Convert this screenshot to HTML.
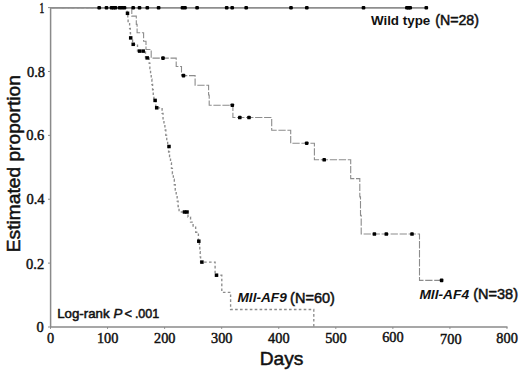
<!DOCTYPE html>
<html><head><meta charset="utf-8"><style>
html,body{margin:0;padding:0;background:#fff;width:520px;height:371px;overflow:hidden;}
svg{display:block;font-family:"Liberation Sans",sans-serif;}
</style></head><body>
<svg width="520" height="371" viewBox="0 0 520 371">
<rect width="520" height="371" fill="#fff"/>
<path d="M50.6,7.2 L50.6,327 M50,327 L507.5,327" stroke="#8a8a8a" stroke-width="1.5" fill="none"/>
<line x1="48" y1="327.00" x2="50.6" y2="327.00" stroke="#8a8a8a" stroke-width="1"/>
<line x1="48" y1="263.12" x2="50.6" y2="263.12" stroke="#8a8a8a" stroke-width="1"/>
<line x1="48" y1="199.24" x2="50.6" y2="199.24" stroke="#8a8a8a" stroke-width="1"/>
<line x1="48" y1="135.36" x2="50.6" y2="135.36" stroke="#8a8a8a" stroke-width="1"/>
<line x1="48" y1="71.48" x2="50.6" y2="71.48" stroke="#8a8a8a" stroke-width="1"/>
<line x1="48" y1="7.60" x2="50.6" y2="7.60" stroke="#8a8a8a" stroke-width="1"/>
<line x1="50.50" y1="327" x2="50.50" y2="328.9" stroke="#8a8a8a" stroke-width="1"/>
<line x1="107.56" y1="327" x2="107.56" y2="328.9" stroke="#8a8a8a" stroke-width="1"/>
<line x1="164.62" y1="327" x2="164.62" y2="328.9" stroke="#8a8a8a" stroke-width="1"/>
<line x1="221.68" y1="327" x2="221.68" y2="328.9" stroke="#8a8a8a" stroke-width="1"/>
<line x1="278.74" y1="327" x2="278.74" y2="328.9" stroke="#8a8a8a" stroke-width="1"/>
<line x1="335.80" y1="327" x2="335.80" y2="328.9" stroke="#8a8a8a" stroke-width="1"/>
<line x1="392.86" y1="327" x2="392.86" y2="328.9" stroke="#8a8a8a" stroke-width="1"/>
<line x1="449.92" y1="327" x2="449.92" y2="328.9" stroke="#8a8a8a" stroke-width="1"/>
<line x1="506.98" y1="327" x2="506.98" y2="328.9" stroke="#8a8a8a" stroke-width="1"/>
<path d="M50.00,7.60 L127.20,7.60 L127.20,13.00 L127.80,13.00 L127.80,18.30 L128.10,18.30 L128.10,23.60 L129.60,23.60 L129.60,28.50 L130.30,28.50 L130.30,33.00 L130.50,33.00 L130.50,37.90 L132.60,37.90 L132.60,44.30 L137.50,44.30 L137.50,51.10 L145.50,51.10 L145.50,57.90 L149.20,57.90 L149.20,63.21 L149.88,63.21 L149.88,68.53 L150.55,68.53 L150.55,73.84 L151.22,73.84 L151.22,79.15 L151.90,79.15 L151.90,84.46 L152.57,84.46 L152.57,89.78 L153.25,89.78 L153.25,95.09 L153.92,95.09 L153.92,100.40 L154.60,100.40 L155.80,100.40 L155.80,107.80 L162.10,107.80 L162.10,113.33 L163.03,113.33 L163.03,118.86 L163.96,118.86 L163.96,124.39 L164.89,124.39 L164.89,129.91 L165.81,129.91 L165.81,135.44 L166.74,135.44 L166.74,140.97 L167.67,140.97 L167.67,146.50 L168.60,146.50 L168.60,151.96 L169.55,151.96 L169.55,157.42 L170.50,157.42 L170.50,162.88 L171.45,162.88 L171.45,168.33 L172.40,168.33 L172.40,173.79 L173.35,173.79 L173.35,179.25 L174.30,179.25 L174.30,184.71 L175.25,184.71 L175.25,190.17 L176.20,190.17 L176.20,195.62 L177.15,195.62 L177.15,201.08 L178.10,201.08 L178.10,206.54 L179.05,206.54 L179.05,212.00 L180.00,212.00 L188.00,212.00 L188.00,217.05 L190.55,217.05 L190.55,222.10 L193.10,222.10 L193.10,227.15 L195.65,227.15 L195.65,232.20 L198.20,232.20 L198.40,232.20 L198.40,241.20 L199.40,241.20 L199.40,246.43 L199.80,246.43 L199.80,251.65 L200.20,251.65 L200.20,256.88 L200.60,256.88 L200.60,262.10 L201.00,262.10 L215.10,262.10 L215.10,275.20 L221.80,275.20 L221.80,292.30 L230.60,292.30 L230.60,309.50 L313.80,309.50 L313.80,327.00" stroke="#8c8c8c" stroke-width="1.35" fill="none" stroke-dasharray="2.6 2.3" stroke-dashoffset="-1.9"/>
<path d="M50.00,7.60 L131.80,7.60 L131.80,16.10 L136.30,16.10 L136.30,24.40 L137.10,24.40 L137.10,32.70 L143.60,32.70 L143.60,41.20 L146.00,41.20 L146.00,49.50 L151.20,49.50 L151.20,58.10 L176.20,58.10 L176.20,66.50 L181.50,66.50 L181.50,75.60 L195.10,75.60 L195.10,85.30 L208.60,85.30 L208.60,95.00 L209.20,95.00 L209.20,105.20 L232.90,105.20 L232.90,117.50 L271.70,117.50 L271.70,130.20 L290.70,130.20 L290.70,143.20 L314.40,143.20 L314.40,159.80 L350.70,159.80 L350.70,178.60 L359.80,178.60 L359.80,196.90 L360.50,196.90 L360.50,215.40 L361.20,215.40 L361.20,234.00 L419.50,234.00 L419.50,280.40 L441.60,280.40" stroke="#8c8c8c" stroke-width="1.1" fill="none" stroke-dasharray="7.3 1.7" stroke-dashoffset="0"/>
<path d="M50,7.85 L426.2,7.85" stroke="#8e8e8e" stroke-width="1.7" fill="none"/>
<rect x="97.35" y="5.90" width="3.7" height="3.7" rx="1.1" fill="#000"/>
<rect x="104.65" y="5.90" width="3.7" height="3.7" rx="1.1" fill="#000"/>
<rect x="109.65" y="5.90" width="3.7" height="3.7" rx="1.1" fill="#000"/>
<rect x="111.65" y="5.90" width="3.7" height="3.7" rx="1.1" fill="#000"/>
<rect x="113.65" y="5.90" width="3.7" height="3.7" rx="1.1" fill="#000"/>
<rect x="117.75" y="5.90" width="3.7" height="3.7" rx="1.1" fill="#000"/>
<rect x="120.15" y="5.90" width="3.7" height="3.7" rx="1.1" fill="#000"/>
<rect x="122.65" y="5.90" width="3.7" height="3.7" rx="1.1" fill="#000"/>
<rect x="131.35" y="5.90" width="3.7" height="3.7" rx="1.1" fill="#000"/>
<rect x="137.65" y="5.90" width="3.7" height="3.7" rx="1.1" fill="#000"/>
<rect x="145.45" y="5.90" width="3.7" height="3.7" rx="1.1" fill="#000"/>
<rect x="156.75" y="5.90" width="3.7" height="3.7" rx="1.1" fill="#000"/>
<rect x="180.65" y="5.90" width="3.7" height="3.7" rx="1.1" fill="#000"/>
<rect x="183.15" y="5.90" width="3.7" height="3.7" rx="1.1" fill="#000"/>
<rect x="195.25" y="5.90" width="3.7" height="3.7" rx="1.1" fill="#000"/>
<rect x="224.85" y="5.90" width="3.7" height="3.7" rx="1.1" fill="#000"/>
<rect x="230.35" y="5.90" width="3.7" height="3.7" rx="1.1" fill="#000"/>
<rect x="244.35" y="5.90" width="3.7" height="3.7" rx="1.1" fill="#000"/>
<rect x="289.15" y="5.90" width="3.7" height="3.7" rx="1.1" fill="#000"/>
<rect x="304.95" y="5.90" width="3.7" height="3.7" rx="1.1" fill="#000"/>
<rect x="361.65" y="5.90" width="3.7" height="3.7" rx="1.1" fill="#000"/>
<rect x="405.05" y="5.90" width="3.7" height="3.7" rx="1.1" fill="#000"/>
<rect x="406.75" y="5.90" width="3.7" height="3.7" rx="1.1" fill="#000"/>
<rect x="408.35" y="5.90" width="3.7" height="3.7" rx="1.1" fill="#000"/>
<rect x="424.45" y="5.90" width="3.7" height="3.7" rx="1.1" fill="#000"/>
<rect x="161.20" y="56.30" width="3.6" height="3.6" rx="0.9" fill="#000"/>
<rect x="181.70" y="73.80" width="3.6" height="3.6" rx="0.9" fill="#000"/>
<rect x="230.50" y="103.40" width="3.6" height="3.6" rx="0.9" fill="#000"/>
<rect x="238.00" y="115.70" width="3.6" height="3.6" rx="0.9" fill="#000"/>
<rect x="247.20" y="115.70" width="3.6" height="3.6" rx="0.9" fill="#000"/>
<rect x="304.90" y="141.40" width="3.6" height="3.6" rx="0.9" fill="#000"/>
<rect x="322.40" y="158.00" width="3.6" height="3.6" rx="0.9" fill="#000"/>
<rect x="372.60" y="232.20" width="3.6" height="3.6" rx="0.9" fill="#000"/>
<rect x="384.50" y="232.20" width="3.6" height="3.6" rx="0.9" fill="#000"/>
<rect x="410.20" y="232.20" width="3.6" height="3.6" rx="0.9" fill="#000"/>
<rect x="439.80" y="278.60" width="3.6" height="3.6" rx="0.9" fill="#000"/>
<rect x="125.75" y="11.55" width="3.5" height="3.5" fill="#000"/>
<rect x="128.95" y="36.15" width="3.5" height="3.5" fill="#000"/>
<rect x="131.45" y="42.55" width="3.5" height="3.5" fill="#000"/>
<rect x="137.85" y="49.35" width="3.5" height="3.5" fill="#000"/>
<rect x="141.45" y="49.35" width="3.5" height="3.5" fill="#000"/>
<rect x="145.45" y="56.15" width="3.5" height="3.5" fill="#000"/>
<rect x="153.35" y="98.65" width="3.5" height="3.5" fill="#000"/>
<rect x="154.95" y="106.05" width="3.5" height="3.5" fill="#000"/>
<rect x="167.25" y="144.75" width="3.5" height="3.5" fill="#000"/>
<rect x="182.75" y="210.25" width="3.5" height="3.5" fill="#000"/>
<rect x="185.25" y="210.25" width="3.5" height="3.5" fill="#000"/>
<rect x="197.05" y="239.45" width="3.5" height="3.5" fill="#000"/>
<rect x="200.15" y="260.35" width="3.5" height="3.5" fill="#000"/>
<rect x="214.75" y="273.45" width="3.5" height="3.5" fill="#000"/>
<text x="43.70" y="331.80" font-family="Liberation Serif, serif" font-size="14.5" text-anchor="end" fill="#111" stroke="#111" stroke-width="0.45">0</text>
<text x="44.20" y="269.02" font-family="Liberation Serif, serif" font-size="14.5" text-anchor="end" fill="#111" stroke="#111" stroke-width="0.45">0.2</text>
<text x="44.60" y="203.84" font-family="Liberation Serif, serif" font-size="14.5" text-anchor="end" fill="#111" stroke="#111" stroke-width="0.45">0.4</text>
<text x="44.30" y="140.26" font-family="Liberation Serif, serif" font-size="14.5" text-anchor="end" fill="#111" stroke="#111" stroke-width="0.45">0.6</text>
<text x="45.10" y="76.68" font-family="Liberation Serif, serif" font-size="14.5" text-anchor="end" fill="#111" stroke="#111" stroke-width="0.45">0.8</text>
<text transform="translate(39.4,12.8) scale(0.65,1)" font-family="Liberation Serif, serif" font-size="14.5" fill="#111" stroke="#111" stroke-width="0.6">1</text>
<text x="50.60" y="342.70" font-family="Liberation Serif, serif" font-size="14.3" text-anchor="middle" fill="#111" stroke="#111" stroke-width="0.45">0</text>
<text x="107.66" y="342.70" font-family="Liberation Serif, serif" font-size="14.3" text-anchor="middle" fill="#111" stroke="#111" stroke-width="0.45">100</text>
<text x="164.72" y="342.70" font-family="Liberation Serif, serif" font-size="14.3" text-anchor="middle" fill="#111" stroke="#111" stroke-width="0.45">200</text>
<text x="221.78" y="342.70" font-family="Liberation Serif, serif" font-size="14.3" text-anchor="middle" fill="#111" stroke="#111" stroke-width="0.45">300</text>
<text x="278.84" y="342.70" font-family="Liberation Serif, serif" font-size="14.3" text-anchor="middle" fill="#111" stroke="#111" stroke-width="0.45">400</text>
<text x="335.90" y="342.70" font-family="Liberation Serif, serif" font-size="14.3" text-anchor="middle" fill="#111" stroke="#111" stroke-width="0.45">500</text>
<text x="392.96" y="342.40" font-family="Liberation Serif, serif" font-size="14.3" text-anchor="middle" fill="#111" stroke="#111" stroke-width="0.45">600</text>
<text x="450.82" y="343.50" font-family="Liberation Serif, serif" font-size="14.3" text-anchor="middle" fill="#111" stroke="#111" stroke-width="0.45">700</text>
<text x="507.08" y="342.70" font-family="Liberation Serif, serif" font-size="14.3" text-anchor="middle" fill="#111" stroke="#111" stroke-width="0.45">800</text>
<text x="281.5" y="365.2" font-family="Liberation Sans, sans-serif" font-size="19.2" text-anchor="middle" fill="#111" stroke="#111" stroke-width="0.5">Days</text>
<text transform="translate(19.5,163.7) rotate(-90)" font-family="Liberation Sans, sans-serif" font-size="19.2" text-anchor="middle" fill="#111" stroke="#111" stroke-width="0.5">Estimated proportion</text>
<text transform="translate(370.90,24.80) scale(1.000,1)" font-family="Liberation Sans, sans-serif" font-size="13.4" font-weight="bold" fill="#111" >Wild type</text>
<text transform="translate(435.20,24.60) scale(1.014,1)" font-family="Liberation Sans, sans-serif" font-size="14" fill="#111" stroke="#111" stroke-width="0.5">(N=28)</text>
<text transform="translate(237.50,302.20) scale(1.020,1)" font-family="Liberation Sans, sans-serif" font-size="13.4" font-weight="bold" font-style="italic" fill="#111" >Mll-AF9</text>
<text transform="translate(290.10,302.50) scale(1.038,1)" font-family="Liberation Sans, sans-serif" font-size="14" fill="#111" stroke="#111" stroke-width="0.5">(N=60)</text>
<text transform="translate(419.40,299.30) scale(1.027,1)" font-family="Liberation Sans, sans-serif" font-size="13.4" font-weight="bold" font-style="italic" fill="#111" >Mll-AF4</text>
<text transform="translate(473.20,299.40) scale(1.038,1)" font-family="Liberation Sans, sans-serif" font-size="14" fill="#111" stroke="#111" stroke-width="0.5">(N=38)</text>
<text transform="translate(57.20,317.60) scale(1.062,1)" font-family="Liberation Sans, sans-serif" font-size="12.5" fill="#111" stroke="#111" stroke-width="0.5">Log-rank</text>
<text transform="translate(113.60,317.60) scale(1.000,1)" font-family="Liberation Sans, sans-serif" font-size="13.2" font-style="italic" fill="#111" stroke="#111" stroke-width="0.5">P</text>
<text transform="translate(124.60,317.60) scale(1.000,1)" font-family="Liberation Sans, sans-serif" font-size="12.8" fill="#111" stroke="#111" stroke-width="0.5">&lt;</text>
<text transform="translate(134.90,317.60) scale(1.000,1)" font-family="Liberation Sans, sans-serif" font-size="12.5" fill="#111" stroke="#111" stroke-width="0.5">.001</text>
</svg>
</body></html>
